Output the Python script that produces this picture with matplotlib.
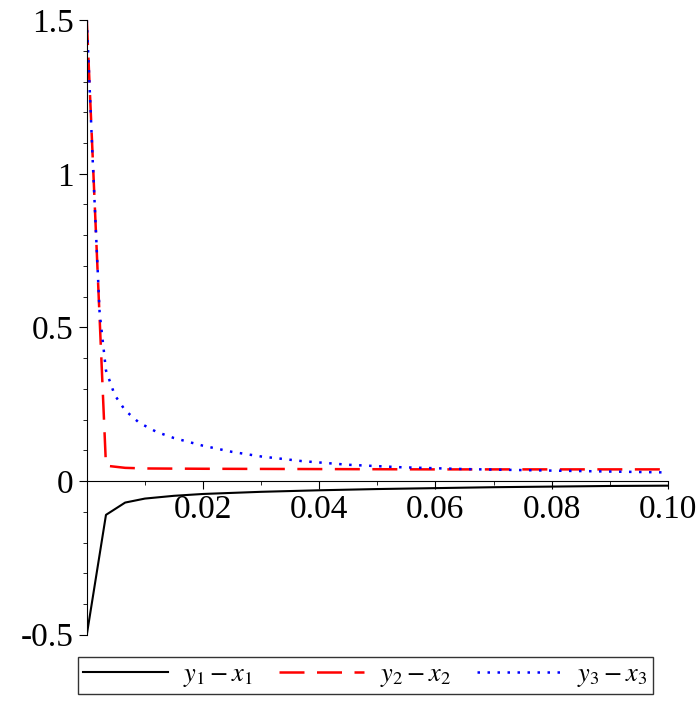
import matplotlib
matplotlib.use("Agg")
import matplotlib.pyplot as plt
from matplotlib.ticker import MultipleLocator

plt.rcParams["font.family"] = "Liberation Serif"
plt.rcParams["mathtext.fontset"] = "stix"

x_black = [0.0, 0.0033, 0.0066, 0.01, 0.015, 0.02, 0.03, 0.04, 0.05, 0.06, 0.07, 0.08, 0.09, 0.10]
y_black = [-0.5, -0.11, -0.07, -0.057, -0.048, -0.042, -0.035, -0.030, -0.026, -0.023, -0.020, -0.018, -0.016, -0.015]

x_red = [0.0, 0.0033, 0.0066, 0.01, 0.02, 0.04, 0.06, 0.08, 0.10]
y_red = [1.5, 0.05, 0.043, 0.041, 0.04, 0.039, 0.038, 0.038, 0.038]

x_blue = [0.0, 0.001, 0.0022, 0.0033, 0.0048, 0.0066, 0.009, 0.012, 0.015, 0.02, 0.025, 0.03, 0.037, 0.045, 0.054, 0.065, 0.08, 0.10]
y_blue = [1.5, 1.05, 0.55, 0.36, 0.28, 0.23, 0.19, 0.16, 0.14, 0.115, 0.095, 0.08, 0.065, 0.053, 0.045, 0.039, 0.034, 0.028]

labels = [r"$y_1 - x_1$", r"$y_2 - x_2$", r"$y_3 - x_3$"]

fig = plt.figure(figsize=(7, 7.18), dpi=100)
ax = fig.add_axes([0.124, 0.116, 0.83, 0.856])
l1, = ax.plot(x_black, y_black, color="black", lw=1.5)
l2, = ax.plot(x_red, y_red, color="red", lw=1.8, dashes=(10, 5))
l3, = ax.plot(x_blue, y_blue, color="blue", lw=1.8, linestyle=(0, (1, 3)))

ax.set_xlim(0, 0.10)
ax.set_ylim(-0.5, 1.5)
for s in ["top", "right"]:
    ax.spines[s].set_visible(False)
ax.spines["bottom"].set_position(("data", 0))
ax.spines["left"].set_position(("data", 0))
ax.set_xticks([0.02, 0.04, 0.06, 0.08, 0.10])
ax.set_xticklabels(["0.02", "0.04", "0.06", "0.08", "0.10"])
ax.xaxis.set_minor_locator(MultipleLocator(0.01))
ax.set_yticks([-0.5, 0, 0.5, 1, 1.5])
ax.set_yticklabels(["-0.5", "0", "0.5", "1", "1.5"])
ax.yaxis.set_minor_locator(MultipleLocator(0.1))
ax.tick_params(labelsize=24, length=6)
ax.tick_params(which="minor", length=3)

fig.legend([l1, l2, l3], labels, loc="lower center", bbox_to_anchor=(0.522, 0.015),
           ncol=3, fontsize=19, frameon=True, fancybox=False, edgecolor="black",
           handlelength=3.2, columnspacing=1.0, borderpad=0.2, handletextpad=0.6)
fig.savefig("out.png", dpi=100)
